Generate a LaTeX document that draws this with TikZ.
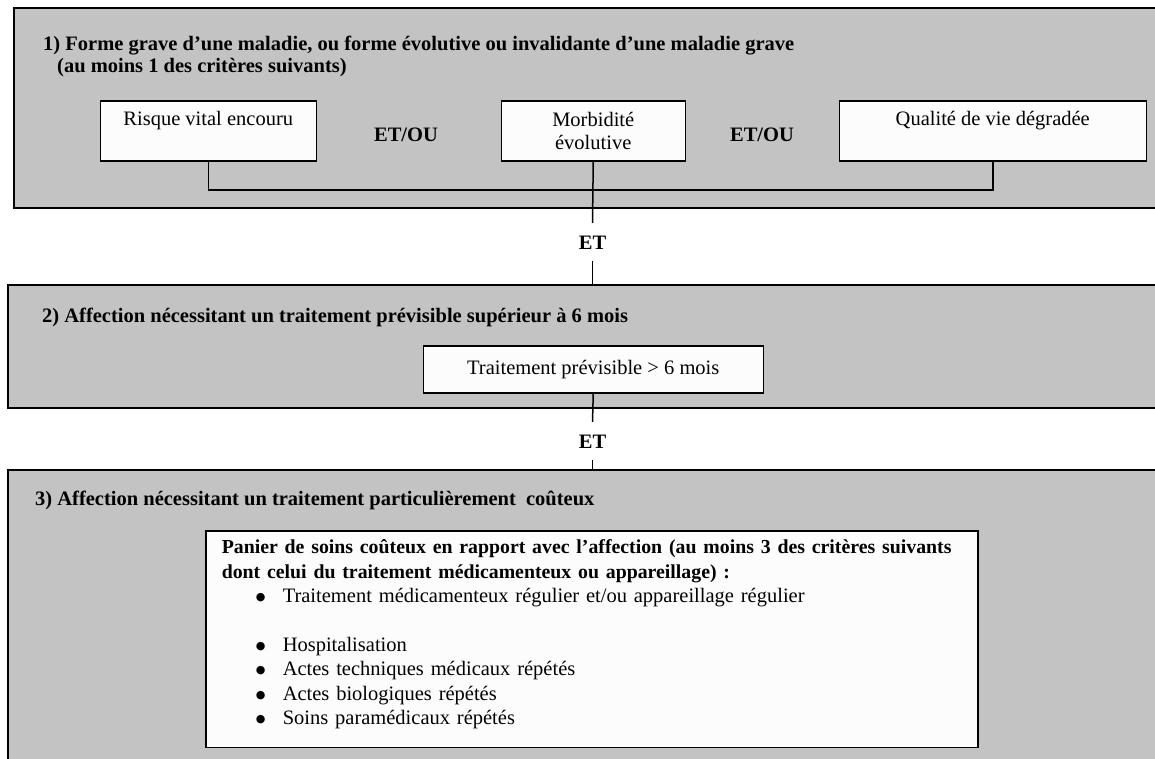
\documentclass[tikz,border=0pt]{standalone}
\usepackage{fontspec}
\setmainfont{Liberation Serif}
\newfontfamily\symfont{DejaVu Sans}
\usetikzlibrary{positioning}
\definecolor{panelgrey}{RGB}{195,195,195}
\definecolor{boxwhite}{RGB}{252,252,252}
\newcommand{\puce}{\hspace*{34pt}\makebox[27pt][l]{\raisebox{1.8pt}{\symfont\fontsize{11}{11}\selectfont ●}}}

\begin{document}
\begin{tikzpicture}[x=1pt, y=-1pt,
	every node/.style={font=\fontsize{20.5}{23.5}\selectfont},
	panel/.style={draw, line width=1.5pt, fill=panelgrey, anchor=north west, inner sep=0pt},
	crit/.style={draw, line width=1.5pt, fill=boxwhite, anchor=north west, inner sep=0pt, align=center},
	title/.style={font=\fontsize{20.5}{22}\selectfont\bfseries, inner sep=0pt, align=left},
	andor/.style={font=\fontsize{20.5}{23.5}\selectfont\bfseries, inner sep=0pt},
	etlabel/.style={font=\fontsize{20.5}{23.5}\selectfont\bfseries, inner xsep=2pt, inner ysep=12pt, text height=14pt, text depth=0pt},
	link/.style={line width=1.5pt}]

\useasboundingbox (0,0) rectangle (1155,758);
\clip (0,0) rectangle (1155,758);

\node[panel, minimum width=1160, minimum height=200] (p1) at (13,7) {};
\node[panel, minimum width=1160, minimum height=123] (p2) at (7,284) {};
\node[panel, minimum width=1160, minimum height=320] (p3) at (7,469) {};

\node[title, anchor=north west] (t1) at (43,36) {1) Forme grave d’une maladie, ou forme évolutive ou invalidante d’une maladie grave\\\hspace*{14pt}(au moins 1 des critères suivants)};
\node[title, anchor=base west] (t2) at (42,322) {2) Affection nécessitant un traitement prévisible supérieur à 6 mois};
\node[title, anchor=base west] (t3) at (35,505) {3) Affection nécessitant un traitement particulièrement\ \ coûteux};

\node[crit, minimum width=216, minimum height=60, text height=25pt, text depth=35pt] (risque) at (99.5,100) {Risque vital encouru};
\node[crit, minimum width=184, minimum height=60] (morb) at (500.5,100) {Morbidité\\évolutive};
\node[crit, minimum width=307, minimum height=60, text height=25pt, text depth=35pt] (qualite) at (838.5,100) {Qualité de vie dégradée};
\node[andor] (etou1) at (406,135) {ET/OU};
\node[andor] (etou2) at (762,135) {ET/OU};

\coordinate (join) at (592.5,190);
\draw[link] (risque.south) |- (join) -| (qualite.south);

\node[etlabel] (et1) at (592.5,242) {ET};
\draw[link] (morb.south) -- (et1.north);
\draw[link] (et1.south) -- (et1.south |- p2.north);

\node[crit, minimum width=340, minimum height=47] (traitement) at (422.5,345) {Traitement prévisible > 6 mois};

\node[etlabel] (et2) at (592.5,441) {ET};
\draw[link] (traitement.south) -- (et2.north);
\draw[link] (et2.south) -- (et2.south |- p3.north);

\node[crit, align=left, text width=740pt, inner xsep=16pt, inner ysep=9pt, font=\fontsize{20.5}{24.4}\selectfont] (panier) at (205,530) {{\fontsize{19.8}{24.4}\selectfont\bfseries \mbox{Panier de soins coûteux en rapport avec l’affection (au moins 3 des critères suivants}\\\mbox{dont celui du traitement médicamenteux ou appareillage) :}}\\
\puce Traitement médicamenteux régulier et/ou appareillage régulier\\[24.4pt]
\puce Hospitalisation\\
\puce Actes techniques médicaux répétés\\
\puce Actes biologiques répétés\\
\puce Soins paramédicaux répétés\rule[-14pt]{0pt}{14pt}};

\end{tikzpicture}
\end{document}
